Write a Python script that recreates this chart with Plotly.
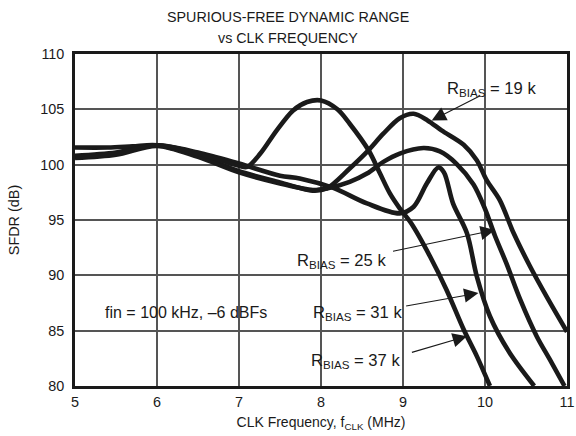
import plotly.graph_objects as go

# ---- data ----
x_19k = [5, 5.4, 5.7, 6, 6.5, 7, 7.5, 7.9, 8.07, 8.35, 8.56, 8.76, 8.96, 9.13, 9.3, 9.47,
         9.74, 9.9, 10.02, 10.18, 10.35, 10.55, 10.75, 11.0]
y_19k = [101.55, 101.55, 101.65, 101.75, 100.8, 99.4, 98.4, 97.65, 97.85, 99.65, 101.15, 102.8,
         104.2, 104.6, 104.0, 103.1, 101.8, 100.4, 98.6, 96.8, 93.8, 90.8, 88.1, 84.9]

x_25k = [5, 5.5, 6, 6.5, 7, 7.5, 7.9, 8.07, 8.35, 8.56, 8.76, 8.96, 9.25, 9.45, 9.65, 9.86,
         10.0, 10.12, 10.26, 10.43, 10.63, 10.79, 10.97]
y_25k = [100.6, 100.9, 101.7, 100.7, 99.3, 98.3, 97.7, 97.85, 98.45, 99.2, 100.25, 101.0,
         101.5, 101.2, 100.1, 98.2, 96.0, 93.6, 91.1, 87.8, 84.5, 82.4, 80.0]

x_31k = [5, 5.5, 6, 6.5, 7, 7.5, 7.74, 8.15, 8.56, 8.96, 9.13, 9.29, 9.43, 9.5, 9.61, 9.78,
         9.9, 10.06, 10.3, 10.6]
y_31k = [100.8, 101.1, 101.75, 101.1, 100.1, 99.0, 98.76, 97.9, 96.5, 95.6, 96.2, 98.3, 99.75,
         99.3, 96.5, 93.8, 89.9, 86.3, 83.0, 80.0]

x_37k = [5, 5.5, 6, 6.5, 7.0, 7.1, 7.26, 7.46, 7.66, 7.83, 8.0, 8.2, 8.35, 8.58, 8.72, 8.84,
         8.96, 9.1, 9.33, 9.53, 9.74, 9.9, 10.06]
y_37k = [100.7, 101.0, 101.75, 101.0, 99.9, 99.8, 101.0, 103.1, 104.9, 105.66, 105.8, 105.0,
         103.7, 101.3, 99.2, 97.4, 96.05, 94.7, 91.7, 88.7, 85.1, 82.7, 80.0]

x_ticks = [5, 6, 7, 8, 9, 10, 11]
y_ticks = [80, 85, 90, 95, 100, 105, 110]

series = [("19 k", x_19k, y_19k), ("25 k", x_25k, y_25k),
          ("31 k", x_31k, y_31k), ("37 k", x_37k, y_37k)]

# label text positions and arrow (tail -> tip)
labels = {
    "19 k": dict(tx=10.08, ty=106.8, ax=9.96, ay=106.3, hx=9.35, hy=104.0),
    "25 k": dict(tx=8.25, ty=91.3, ax=8.86, ay=92.15, hx=10.12, hy=94.1),
    "31 k": dict(tx=8.45, ty=86.6, ax=9.02, ay=87.2, hx=9.92, hy=88.4),
    "37 k": dict(tx=8.42, ty=82.3, ax=9.09, ay=83.0, hx=9.78, hy=84.5),
}

FONT = "Liberation Sans, Arial, sans-serif"
INK = "#1a1a1a"

W, H = 576, 436
ML, MR, MT, MB = 75, 9, 53.5, 50
PLOT_H = H - MT - MB
PLOT_W = W - ML - MR


def page_y(py):
    return (H - MB - py) / PLOT_H


def page_x(px):
    return (px - ML) / PLOT_W


fig = go.Figure()
for name, xs, ys in series:
    fig.add_trace(go.Scatter(x=xs, y=ys, mode="lines", name=name,
                             line=dict(color=INK, width=4.6, shape="spline", smoothing=0.9),
                             showlegend=False))

annotations = []
for name, p in labels.items():
    annotations.append(dict(x=p["tx"], y=p["ty"], xref="x", yref="y",
                            text="R<sub>BIAS</sub> = " + name, showarrow=False,
                            font=dict(size=16.6, color=INK, family=FONT),
                            xanchor="center", yanchor="middle"))
    annotations.append(dict(x=p["hx"], y=p["hy"], xref="x", yref="y",
                            ax=p["ax"], ay=p["ay"], axref="x", ayref="y",
                            text="", showarrow=True, arrowhead=2, arrowsize=2.6,
                            arrowwidth=1.1, arrowcolor=INK))

annotations.append(dict(x=6.35, y=86.65, xref="x", yref="y", text="fin = 100 kHz, –6 dBFs",
                        showarrow=False, font=dict(size=16, color=INK, family=FONT),
                        xanchor="center", yanchor="middle"))

annotations.append(dict(x=page_x(288), y=page_y(16), xref="paper", yref="paper",
                        text="SPURIOUS-FREE DYNAMIC RANGE", showarrow=False,
                        font=dict(size=14.3, color=INK, family=FONT),
                        xanchor="center", yanchor="middle"))
annotations.append(dict(x=page_x(288), y=page_y(37), xref="paper", yref="paper",
                        text="vs CLK FREQUENCY", showarrow=False,
                        font=dict(size=14.3, color=INK, family=FONT),
                        xanchor="center", yanchor="middle"))

fig.update_layout(
    width=W, height=H,
    margin=dict(l=ML, r=MR, t=MT, b=MB, autoexpand=False),
    paper_bgcolor="white", plot_bgcolor="white",
    font=dict(family=FONT, size=14.4, color=INK),
    annotations=annotations,
    hovermode=False,
)
fig.update_xaxes(range=[5, 11], tickvals=x_ticks, showgrid=True, gridcolor="#555555",
                 gridwidth=1.5, showline=True, linecolor=INK, linewidth=2.5, mirror=True,
                 zeroline=False, ticks="", tickfont=dict(size=14.4), automargin=False,
                 ticklabelstandoff=1, ticklabeloverflow="allow",
                 title=dict(text="CLK Frequency, f<sub>CLK</sub> (MHz)", font=dict(size=14),
                            standoff=9))
fig.update_yaxes(range=[80, 110], tickvals=y_ticks, showgrid=True, gridcolor="#555555",
                 gridwidth=1.5, showline=True, linecolor=INK, linewidth=2.5, mirror=True,
                 zeroline=False, ticks="", tickfont=dict(size=14.4), automargin=False,
                 ticklabelstandoff=5,
                 title=dict(text="SFDR (dB)", font=dict(size=14.4), standoff=18))

# remove the browser's default 8px body margin so the 576x436 figure fills the window
fig.write_html("out.html", config={"displayModeBar": False},
               post_script="document.body.style.margin='0';")
